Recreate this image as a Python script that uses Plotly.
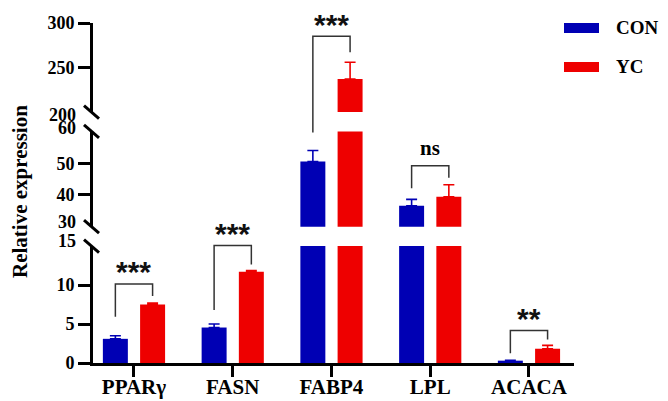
import plotly.graph_objects as go

# ---------------- data ----------------
genes = ["PPARγ", "FASN", "FABP4", "LPL", "ACACA"]
con_mean = [3.1, 4.55, 50.5, 36.6, 0.30]
con_err = [0.4, 0.45, 3.5, 2.0, 0.05]
yc_mean = [7.5, 11.7, 237.0, 39.4, 1.83]
yc_err = [0.2, 0.15, 19.0, 3.8, 0.43]
sig_labels = ["***", "***", "***", "ns", "**"]

# broken axis segments (value ranges) and their regular ticks
seg_ranges = [(0, 15), (30, 60), (200, 300)]
seg_ticks = [[0, 5, 10], [40, 50], [250, 300]]

# ---------------- style / layout ----------------
OX, OY = 8, 8            # page offset of the figure (body margin)
W, H = 660, 393
L, R, T, B = 85, 94, 15, 38
PW, PH = W - L - R, H - T - B
seg_domains = [(0.0, 0.344), (0.401, 0.681), (0.738, 1.0)]
axis_names = ["y", "y2", "y3"]
CON_COLOR = "#0000B4"
YC_COLOR = "#EE0000"
SERIF = "serif"
BAR_W = 0.253
CON_OFF, YC_OFF = -0.315, 0.062
# bracket pixel gaps per gene: (top above highest error bar, left leg gap, right leg gap)
bracket_gaps = [(19, 19, 7), (25, 14, 6), (26, 18, 10), (19, 11, 7), (15, 7, 6)]
break_label_shift = {15: 5, 30: 5, 60: 3, 200: -3}

xs = list(range(len(genes)))


def px_x(px):
    return (px - OX - L) / PW


def px_y(py):
    return (OY + T + PH - py) / PH


def to_paper(v):
    for (lo, hi), (d0, d1) in zip(seg_ranges, seg_domains):
        if v <= hi:
            return d0 + (max(v, lo) - lo) / (hi - lo) * (d1 - d0)
    return 1.0


def seg_err(means, errs, lo, hi):
    return [e if lo <= m <= hi else None for m, e in zip(means, errs)]


fig = go.Figure()

for (lo, hi), ax in zip(seg_ranges, axis_names):
    for name, means, errs, col, off in [("CON", con_mean, con_err, CON_COLOR, CON_OFF),
                                         ("YC", yc_mean, yc_err, YC_COLOR, YC_OFF)]:
        fig.add_trace(go.Bar(
            x=xs, y=means, name=name, yaxis=ax, xaxis="x",
            width=BAR_W, offset=off,
            marker=dict(color=col, line=dict(width=0)),
            error_y=dict(type="data", symmetric=False,
                         array=seg_err(means, errs, lo, hi),
                         arrayminus=[0] * len(means),
                         color=col, thickness=1.6, width=5.5),
            showlegend=False,
        ))

tickfont = dict(family=SERIF, size=18, color="black", weight="bold")

layout = dict(
    template="none",
    width=W, height=H,
    margin=dict(l=L, r=R, t=T, b=B, pad=0, autoexpand=False),
    paper_bgcolor="white", plot_bgcolor="white",
    showlegend=False,
    barmode="overlay",
    font=dict(family=SERIF, color="black"),
    xaxis=dict(
        range=[-0.415, 4.456], tickmode="array", tickvals=xs, ticktext=genes,
        showline=True, linewidth=3, linecolor="black",
        ticks="outside", ticklen=11, tickwidth=3, tickcolor="black",
        ticklabelstandoff=-8,
        tickfont=dict(family=SERIF, size=21, color="black", weight="bold"),
        showgrid=False, zeroline=False, anchor="y", automargin=False,
    ),
)
for (lo, hi), dom, ax, tv in zip(seg_ranges, seg_domains, axis_names, seg_ticks):
    key = "yaxis" if ax == "y" else "yaxis" + ax[1:]
    layout[key] = dict(
        domain=list(dom), range=[lo, hi], anchor="x",
        tickmode="array", tickvals=tv,
        showline=True, linewidth=3, linecolor="black",
        ticks="outside", ticklen=12, tickwidth=3, tickcolor="black",
        tickfont=tickfont, showgrid=False, zeroline=False, automargin=False,
    )
fig.update_layout(**layout)

shapes = []
annotations = []

# axis break slashes and break labels
for (lo, hi), ax in zip(seg_ranges, axis_names):
    for val, anch in [(lo, 0), (hi, 1)]:
        if val == 0 or val == 300:
            continue
        shapes.append(dict(type="line", xref="paper", yref=ax + " domain",
                           xsizemode="pixel", ysizemode="pixel",
                           xanchor=0, yanchor=anch,
                           x0=-9, x1=6, y0=6.5, y1=-6.5,
                           line=dict(color="black", width=3)))
        annotations.append(dict(text=str(val), xref="paper", x=0, yref=ax, y=val,
                                xanchor="right", yanchor="middle",
                                xshift=-15, yshift=break_label_shift.get(val, 0),
                                showarrow=False, font=tickfont))

# significance brackets
for i in xs:
    pc = to_paper(con_mean[i] + con_err[i])
    py = to_paper(yc_mean[i] + yc_err[i])
    tg, lg, rg = bracket_gaps[i]
    top = max(pc, py) + tg / PH
    lb = pc + lg / PH
    rb = py + rg / PH
    xl = i + CON_OFF + BAR_W / 2
    xr = i + YC_OFF + BAR_W / 2
    shapes.append(dict(type="path", xref="x", yref="paper",
                       path=f"M {xl},{lb} L {xl},{top} L {xr},{top} L {xr},{rb}",
                       line=dict(color="#333333", width=1.5)))
    lab = sig_labels[i]
    if lab == "ns":
        f = dict(family=SERIF, size=21, color="black", weight="bold")
        ys = 0
    else:
        f = dict(family="sans-serif", size=30, color="#111111", weight="bold")
        ys = -6
    annotations.append(dict(text=lab, xref="x", x=i, yref="paper", y=top + 18 / PH,
                            yanchor="middle", xanchor="center", yshift=ys,
                            showarrow=False, font=f))

# y-axis title
annotations.append(dict(text="Relative expression", textangle=-90,
                        xref="paper", x=px_x(20), yref="paper", y=px_y(192),
                        xanchor="center", yanchor="middle", showarrow=False,
                        font=dict(family=SERIF, size=21, color="black", weight="bold")))

# custom legend (wide swatches)
for name, col, cy in [("CON", CON_COLOR, 28), ("YC", YC_COLOR, 67)]:
    shapes.append(dict(type="rect", xref="paper", yref="paper",
                       x0=px_x(564), x1=px_x(599),
                       y0=px_y(cy + 5), y1=px_y(cy - 5),
                       fillcolor=col, line=dict(width=0)))
    annotations.append(dict(text=name, xref="paper", x=px_x(614),
                            yref="paper", y=px_y(cy),
                            xanchor="left", yanchor="middle", showarrow=False,
                            font=dict(family=SERIF, size=19, color="black", weight="bold")))

fig.update_layout(shapes=shapes, annotations=annotations)
fig.write_html("out.html")
